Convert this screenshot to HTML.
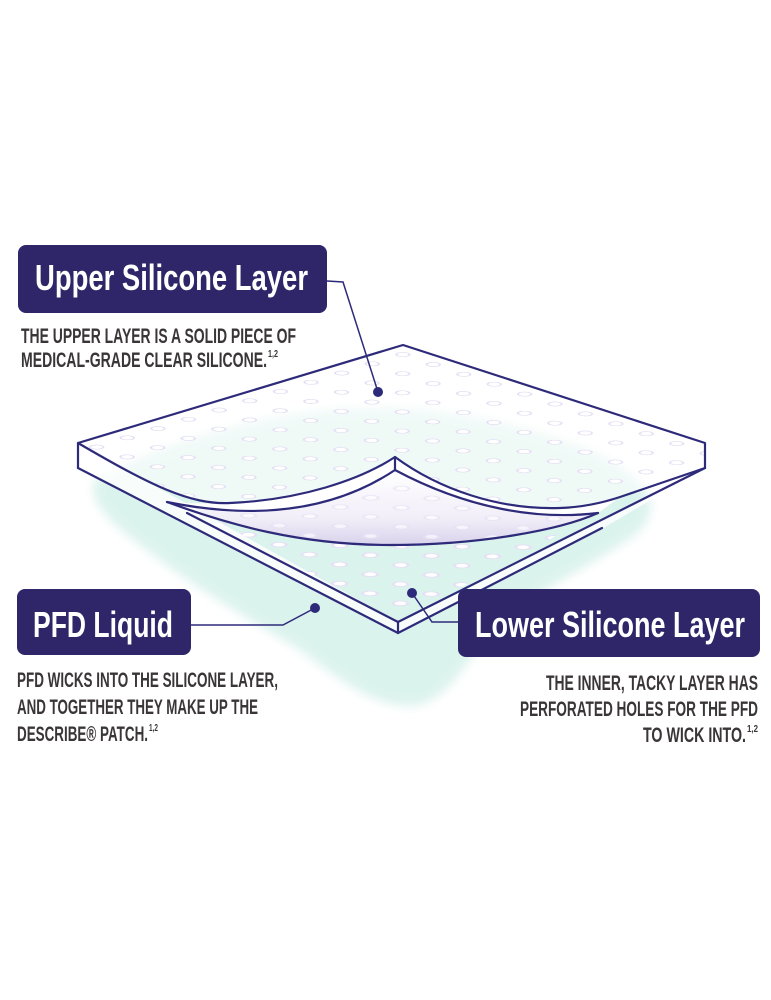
<!DOCTYPE html>
<html><head><meta charset="utf-8"><style>
html,body{margin:0;padding:0;background:#fff;}
svg{display:block;}
</style></head><body>
<svg width="771" height="1000" viewBox="0 0 771 1000" xmlns="http://www.w3.org/2000/svg" font-family="'Liberation Sans', sans-serif">
<defs>
<filter id="blur" x="-20%" y="-20%" width="140%" height="140%"><feGaussianBlur stdDeviation="5"/></filter>
<pattern id="dotsTop" patternUnits="userSpaceOnUse" width="32" height="32" patternTransform="matrix(0.957 -0.289 0.951 0.309 403 345)">
<circle cx="16" cy="16" r="5" fill="#fff" stroke="#e3ddf3" stroke-width="1.4"/></pattern>
<pattern id="dotsLow" patternUnits="userSpaceOnUse" width="32" height="32" patternTransform="matrix(0.957 -0.289 0.951 0.309 403 345)">
<circle cx="16" cy="16" r="5.5" fill="#fff" stroke="#e6e0f5" stroke-width="2.2"/></pattern>
<linearGradient id="curl" x1="0" y1="0" x2="0" y2="1">
<stop offset="0" stop-color="#ffffff"/><stop offset="0.65" stop-color="#f1eef8"/><stop offset="1" stop-color="#d9d2ec"/></linearGradient>
<clipPath id="topClip"><path d="M78,443 L403,345 L705,443 L705,468 L620,497 Q590,507 560,508 C500,510 440,490 395,457 C360,480 300,500 230,503 C190,505 150,485 78,443 Z"/></clipPath>
<clipPath id="lowClip"><path d="M167,502 C230,525 300,545 390,545 C480,545 560,530 598,513 L398,622 Z"/></clipPath>
<clipPath id="curlClip"><path d="M395,470 C350,500 280,525 167,502 C230,525 300,545 390,545 C480,545 560,530 598,513 C540,520 470,510 395,470 Z"/></clipPath>
</defs>

<!-- teal watercolor -->
<g filter="url(#blur)" opacity="0.7">
<path d="M95,480 C150,450 230,420 330,410 C420,402 520,420 600,455 C650,480 665,510 635,535 C600,560 540,590 500,620 C470,650 460,690 420,705 C380,712 340,680 300,650 C250,620 200,590 160,560 C120,530 85,505 95,480 Z" fill="#cdeee6"/>
</g>

<!-- top face (translucent) -->
<path d="M78,443 L403,345 L705,443 L705,468 L620,497 Q590,507 560,508 C500,510 440,490 395,457 C360,480 300,500 230,503 C190,505 150,485 78,443 Z" fill="#fff" opacity="0.55"/>
<rect x="0" y="0" width="771" height="1000" fill="url(#dotsTop)" clip-path="url(#topClip)"/>

<!-- lower visible dots -->
<rect x="0" y="0" width="771" height="1000" fill="url(#dotsLow)" clip-path="url(#lowClip)"/>

<!-- curl inner -->
<path d="M395,470 C350,500 280,525 167,502 C230,525 300,545 390,545 C480,545 560,530 598,513 C540,520 470,510 395,470 Z" fill="url(#curl)"/>
<rect x="0" y="0" width="771" height="1000" fill="url(#dotsLow)" clip-path="url(#curlClip)" opacity="0.6"/>

<!-- curl edge band -->
<path d="M395,457 C360,480 300,500 230,503 C200,504 180,503 167,502 C280,525 350,500 395,470 C470,510 540,520 598,513 L620,497 Q590,507 560,508 C500,510 440,490 395,457 Z" fill="#fff"/>

<!-- side boxes fill -->
<path d="M78,443 L78,468 L398,633 L398,622 Z" fill="#fff" opacity="0.8"/>
<path d="M398,622 L398,633 L600,530 L705,468 Z" fill="#fff" opacity="0.8"/>

<g fill="none" stroke="#2e2a7a" stroke-width="2.2" stroke-linejoin="round" stroke-linecap="round">
<path d="M78,468 L78,443 L403,345 L705,443 L705,468"/>
<path d="M78,443 C150,485 190,505 230,503 C300,500 360,480 395,457 L395,470"/>
<path d="M395,457 C440,490 500,510 560,508 Q590,507 620,497 L705,468"/>
<path d="M395,470 C350,500 280,525 167,502"/>
<path d="M395,470 C470,510 540,520 598,513"/>
<path d="M167,502 C230,525 300,545 390,545 C480,545 560,530 598,513"/>
<path d="M78,468 L398,633 L398,622"/>
<path d="M187,513 L398,622 L705,468"/>
<path d="M398,633 L602,528"/>
</g>

<!-- connectors -->
<g fill="none" stroke="#2e2a7a" stroke-width="1.5">
<path d="M327,281 L343,282 L378,392"/>
<path d="M190,625 L283,625 L315,608"/>
<path d="M412,593 L432,622 L460,622"/>
</g>
<circle cx="378" cy="392" r="5" fill="#2e2a7a"/>
<circle cx="315" cy="608" r="5" fill="#2e2a7a"/>
<circle cx="412" cy="593" r="5" fill="#2e2a7a"/>

<!-- label boxes -->
<rect x="18" y="245" width="309" height="68" rx="8" fill="#2e2669"/>
<text x="35" y="290" font-size="36" font-weight="bold" fill="#fff" textLength="273" lengthAdjust="spacingAndGlyphs">Upper Silicone Layer</text>

<rect x="17" y="589" width="174" height="66" rx="8" fill="#2e2669"/>
<text x="33" y="637" font-size="36" font-weight="bold" fill="#fff" textLength="140" lengthAdjust="spacingAndGlyphs">PFD Liquid</text>

<rect x="458" y="589" width="302" height="68" rx="8" fill="#2e2669"/>
<text x="475" y="637" font-size="36" font-weight="bold" fill="#fff" textLength="270" lengthAdjust="spacingAndGlyphs">Lower Silicone Layer</text>

<!-- descriptions -->
<g fill="#3a3638" font-size="21" font-weight="bold">
<text x="21" y="343" textLength="275" lengthAdjust="spacingAndGlyphs">THE UPPER LAYER IS A SOLID PIECE OF</text>
<text x="21" y="367" textLength="246" lengthAdjust="spacingAndGlyphs">MEDICAL-GRADE CLEAR SILICONE.</text>
<text x="268" y="357" font-size="10" textLength="10" lengthAdjust="spacingAndGlyphs">1,2</text>

<text x="17" y="687" textLength="261" lengthAdjust="spacingAndGlyphs">PFD WICKS INTO THE SILICONE LAYER,</text>
<text x="17" y="714" textLength="241" lengthAdjust="spacingAndGlyphs">AND TOGETHER THEY MAKE UP THE</text>
<text x="17" y="741" textLength="131" lengthAdjust="spacingAndGlyphs">DESCRIBE® PATCH.</text>
<text x="149" y="731" font-size="10" textLength="9" lengthAdjust="spacingAndGlyphs">1,2</text>

<text x="546" y="690" textLength="212" lengthAdjust="spacingAndGlyphs">THE INNER, TACKY LAYER HAS</text>
<text x="520" y="716" textLength="238" lengthAdjust="spacingAndGlyphs">PERFORATED HOLES FOR THE PFD</text>
<text x="643" y="742" textLength="103" lengthAdjust="spacingAndGlyphs">TO WICK INTO.</text>
<text x="747" y="732" font-size="10" textLength="11" lengthAdjust="spacingAndGlyphs">1,2</text>
</g>
</svg>
</body></html>
